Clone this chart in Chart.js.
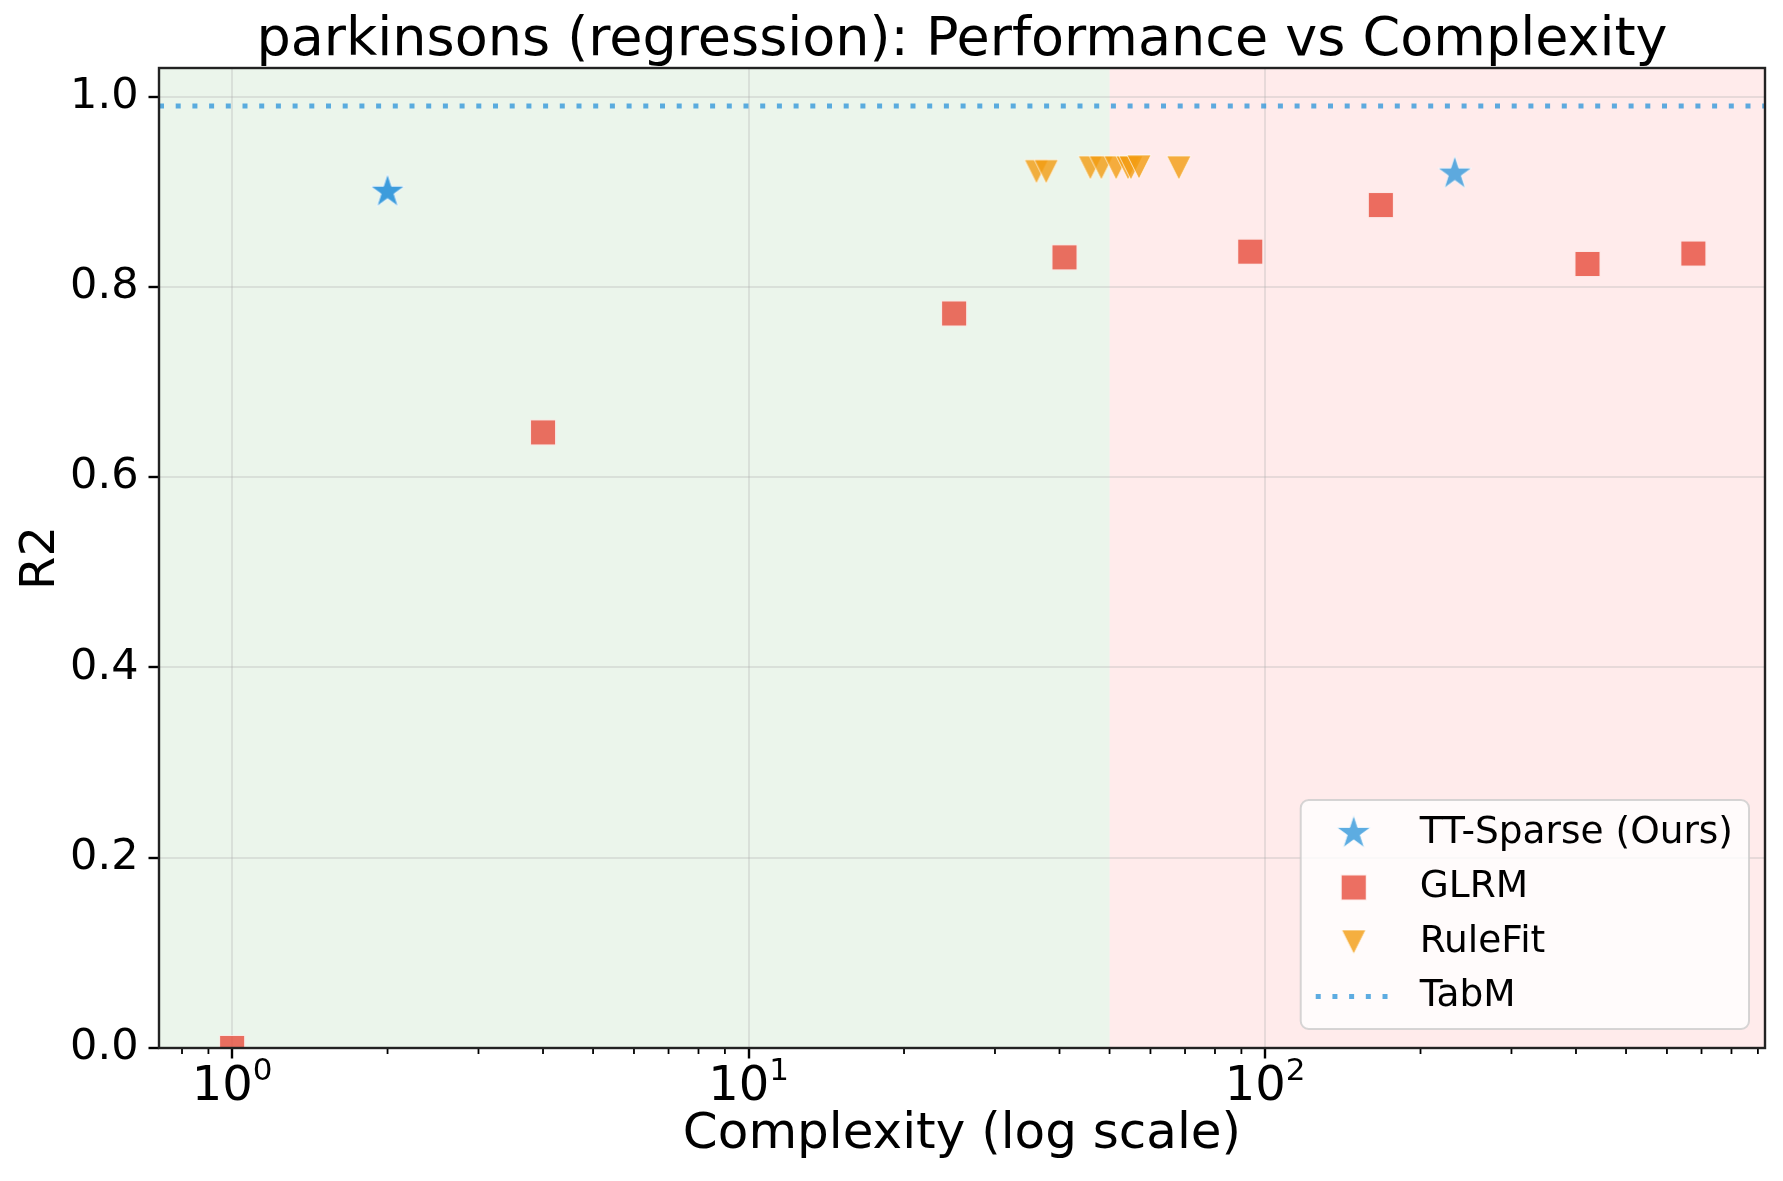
<!DOCTYPE html>
<html>
<head>
<meta charset="utf-8">
<script src="https://cdn.jsdelivr.net/npm/chart.js@4.4.1/dist/chart.umd.min.js"></script>
<style>
  html, body { margin: 0; padding: 0; background: #fff; }
  #wrap { width: 1783px; height: 1181px; }
</style>
</head>
<body>
<div id="wrap"><canvas id="chart" width="1783" height="1181"></canvas></div>
<script>
// values
const ttSparseX = [2, 2, 233];
const ttSparseY = [0.900, 0.900, 0.919];
const glrmX = [1, 4, 25, 40.9, 93.6, 167.6, 421, 675];
const glrmY = [0.0, 0.647, 0.772, 0.831, 0.837, 0.886, 0.824, 0.835];
const ruleFitX = [36.1, 37.7, 45.9, 48.2, 51.5, 54.3, 55.0, 57.0, 68.1];
const ruleFitY = [0.921, 0.921, 0.925, 0.925, 0.925, 0.925, 0.925, 0.926, 0.925];
const tabmY = 0.990;
const simpleLimit = 50; // green / red split on complexity
const xRange = [0.722, 929];
const yRange = [0, 1.03];
const yTicks = [0, 0.2, 0.4, 0.6, 0.8, 1.0];
const xMajor = [1, 10, 100];
const xExponents = ['0', '1', '2'];
const legendNames = ['TT-Sparse (Ours)', 'GLRM', 'RuleFit', 'TabM'];

const FONT = "'DejaVu Sans', sans-serif";
const blue = 'rgba(52,152,219,0.8)';
const red = 'rgba(231,76,60,0.8)';
const orange = 'rgba(243,156,18,0.8)';

// marker images (matplotlib-like star, square, down triangle)
function makeMarker(kind, fill) {
  const c = document.createElement('canvas');
  const size = kind === 'star' ? 38 : 28;
  c.width = c.height = size;
  const g = c.getContext('2d');
  const m = size / 2;
  g.beginPath();
  if (kind === 'star') {
    const R = 17.8;
    for (let i = 0; i < 10; i++) {
      const r = i % 2 ? R * 0.382 : R;
      const a = -Math.PI / 2 + i * Math.PI / 5;
      g.lineTo(m + r * Math.cos(a), m + r * Math.sin(a));
    }
  } else if (kind === 'square') {
    g.rect(m - 12.5, m - 12.5, 25, 25);
  } else {
    g.moveTo(m - 12, m - 12);
    g.lineTo(m + 12, m - 12);
    g.lineTo(m, m + 12);
  }
  g.closePath();
  g.fillStyle = fill;
  g.fill();
  g.strokeStyle = 'rgba(255,255,255,0.7)';
  g.lineWidth = 1;
  g.stroke();
  return c;
}
const starImg = makeMarker('star', blue);
const squareImg = makeMarker('square', red);
const triImg = makeMarker('tri', orange);

function pts(xs, ys) { return xs.map((x, i) => ({ x: x, y: ys[i] })); }

const bgPlugin = {
  id: 'bg',
  beforeDraw(chart) {
    const { ctx, chartArea: a, scales } = chart;
    const split = scales.x.getPixelForValue(simpleLimit);
    ctx.save();
    ctx.fillStyle = '#fff';
    ctx.fillRect(0, 0, chart.width, chart.height);
    ctx.fillStyle = 'rgba(0,128,0,0.08)';
    ctx.fillRect(a.left, a.top, split - a.left, a.bottom - a.top);
    ctx.fillStyle = 'rgba(255,0,0,0.08)';
    ctx.fillRect(split, a.top, a.right - split, a.bottom - a.top);
    ctx.restore();
  }
};

const framePlugin = {
  id: 'frame',
  afterDatasetsDraw(chart) {
    const { ctx, chartArea: a, scales } = chart;
    ctx.save();
    // minor ticks on the log axis
    ctx.strokeStyle = '#000';
    ctx.lineWidth = 1.8;
    for (let d = 0.1; d <= 100; d *= 10) {
      for (let k = 2; k <= 9; k++) {
        const v = d * k;
        if (v < xRange[0] || v > xRange[1]) continue;
        const px = scales.x.getPixelForValue(v);
        ctx.beginPath();
        ctx.moveTo(px, a.bottom);
        ctx.lineTo(px, a.bottom + 6);
        ctx.stroke();
      }
    }
    ctx.strokeStyle = '#222';
    ctx.lineWidth = 2.4;
    ctx.strokeRect(a.left, a.top, a.right - a.left, a.bottom - a.top);

    // x tick labels as 10 with a raised exponent
    ctx.fillStyle = '#000';
    ctx.textBaseline = 'alphabetic';
    ctx.textAlign = 'left';
    xMajor.forEach((v, i) => {
      const px = scales.x.getPixelForValue(v);
      ctx.font = '48px ' + FONT;
      const wBase = ctx.measureText('10').width;
      ctx.font = '31px ' + FONT;
      const wExp = ctx.measureText(xExponents[i]).width;
      const x0 = px - (wBase + wExp) / 2;
      ctx.font = '48px ' + FONT;
      ctx.fillText('10', x0, a.bottom + 52);
      ctx.font = '31px ' + FONT;
      ctx.fillText(xExponents[i], x0 + wBase, a.bottom + 32);
    });
    ctx.restore();
  }
};

const legendPlugin = {
  id: 'boxLegend',
  afterDraw(chart) {
    const { ctx, chartArea: a } = chart;
    ctx.save();
    ctx.font = '37.5px ' + FONT;
    const tw = Math.max(...legendNames.map(n => ctx.measureText(n).width));
    const w = 119 + tw + 16, h = 229;
    const x0 = a.right - 16 - w, y0 = a.bottom - 19 - h;
    ctx.beginPath();
    ctx.roundRect(x0, y0, w, h, 8);
    ctx.fillStyle = 'rgba(255,255,255,0.8)';
    ctx.fill();
    ctx.strokeStyle = 'rgba(204,204,204,0.8)';
    ctx.lineWidth = 2;
    ctx.stroke();
    const imgs = [starImg, squareImg, triImg];
    legendNames.forEach((name, i) => {
      const cy = y0 + 33 + i * 54.5;
      if (i < 3) {
        const im = imgs[i];
        ctx.drawImage(im, x0 + 53 - im.width / 2, cy - im.height / 2);
      } else {
        ctx.strokeStyle = blue;
        ctx.lineWidth = 5;
        ctx.setLineDash([5, 11.7]);
        ctx.beginPath();
        ctx.moveTo(x0 + 15, cy);
        ctx.lineTo(x0 + 92, cy);
        ctx.stroke();
        ctx.setLineDash([]);
      }
      ctx.fillStyle = '#000';
      ctx.textBaseline = 'middle';
      ctx.fillText(name, x0 + 119, cy);
    });
    ctx.restore();
  }
};

new Chart(document.getElementById('chart'), {
  type: 'scatter',
  data: {
    datasets: [
      { label: 'TT-Sparse (Ours)', data: pts(ttSparseX, ttSparseY), pointStyle: starImg, pointRadius: 17, clip: 0, order: 1 },
      { label: 'GLRM', data: pts(glrmX, glrmY), pointStyle: squareImg, pointRadius: 13, clip: 0, order: 2 },
      { label: 'RuleFit', data: pts(ruleFitX, ruleFitY), pointStyle: triImg, pointRadius: 12, clip: 0, order: 3 },
      {
        type: 'line', label: 'TabM', data: pts(xRange, [tabmY, tabmY]),
        borderColor: blue, borderWidth: 5, borderDash: [5, 11.7], pointRadius: 0, fill: false, order: 10
      }
    ]
  },
  options: {
    responsive: false,
    animation: false,
    layout: { padding: { left: 0, right: 17, top: 0, bottom: 0 } },
    plugins: {
      legend: { display: false },
      tooltip: { enabled: false },
      title: {
        display: true,
        fullSize: false,
        text: 'parkinsons (regression): Performance vs Complexity',
        color: '#000',
        font: { family: FONT, size: 54, weight: 'normal', lineHeight: 1.0 },
        padding: { top: 14, bottom: 0 }
      }
    },
    scales: {
      x: {
        type: 'logarithmic',
        bounds: 'data',
        min: xRange[0],
        max: xRange[1],
        afterBuildTicks: s => { s.ticks = xMajor.map(v => ({ value: v })); },
        afterFit: s => { s.height = 133; s.paddingLeft = 0; s.paddingRight = 0; },
        ticks: {
          autoSkip: false,
          maxRotation: 0,
          color: '#000',
          padding: 8,
          font: { family: FONT, size: 43 },
          callback: () => ''
        },
        grid: { color: 'rgba(176,176,176,0.3)', lineWidth: 2, tickColor: '#000', tickLength: 10.5, tickWidth: 2.4 },
        border: { display: false },
        title: {
          display: true, text: 'Complexity (log scale)', color: '#000',
          font: { family: FONT, size: 50, lineHeight: 1.2 }, padding: { top: 0, bottom: 16 }
        }
      },
      y: {
        min: yRange[0],
        max: yRange[1],
        afterBuildTicks: s => { s.ticks = yTicks.map(v => ({ value: v })); },
        afterFit: s => { s.width = 159; },
        ticks: {
          color: '#000',
          padding: 10,
          font: { family: FONT, size: 43 },
          callback: v => v.toFixed(1)
        },
        grid: { color: 'rgba(176,176,176,0.3)', lineWidth: 2, tickColor: '#000', tickLength: 10.5, tickWidth: 2.4 },
        border: { display: false },
        title: {
          display: true, text: 'R2', color: '#000',
          font: { family: FONT, size: 48, lineHeight: 1.2 }, padding: { top: 13, bottom: 0 }
        }
      }
    }
  },
  plugins: [bgPlugin, framePlugin, legendPlugin]
});
</script>
</body>
</html>
